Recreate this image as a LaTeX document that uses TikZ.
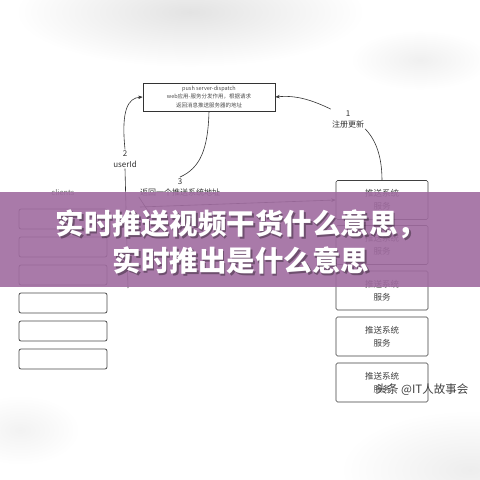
\documentclass[tikz,border=0pt]{standalone}
\usepackage{fontspec}
\newfontfamily\cjk{Noto Sans CJK SC}
\usetikzlibrary{arrows.meta}
\definecolor{bannerpurple}{RGB}{160,108,160}

\begin{document}
\begin{tikzpicture}[x=1pt, y=-1pt,
    pushbox/.style={draw=black!75, line width=0.6pt, rounded corners=1.5pt,
        minimum width=92pt, minimum height=39pt, inner sep=0pt,
        font=\cjk\fontsize{8.5}{13}\selectfont, text=black!75, align=center},
    clientbox/.style={draw=black!70, line width=0.8pt, rounded corners=2pt,
        minimum width=88pt, minimum height=20pt, inner sep=0pt},
    steplabel/.style={font=\cjk\fontsize{8}{11}\selectfont, text=black!80,
        align=center, inner sep=1pt},
    link/.style={draw=black!80, line width=0.6pt},
    tip/.style={-{Stealth[length=4.5pt,width=3.5pt]}}]

    \useasboundingbox (0,0) rectangle (480,480);
    \fill[white] (0,0) rectangle (480,480);

    % faint page background
    \shade[inner color=gray!22, outer color=white] (190,12) ellipse (175 and 55);
    \shade[inner color=gray!12, outer color=white] (420,60) ellipse (70 and 30);
    \shade[inner color=gray!14, outer color=white] (470,470) ellipse (130 and 60);
    \shade[inner color=gray!10, outer color=white] (20,430) ellipse (60 and 35);

    % dispatch server
    \node[draw=black!80, line width=0.6pt, minimum width=132pt, minimum height=28pt,
        inner sep=0pt, align=center, font=\cjk\fontsize{5.5}{8.5}\selectfont, text=black!70]
        (dispatch) at (209,97)
        {push server-dispatch\\web应用-服务分发作用，根据请求\\返回消息推送服务器的地址};

    % push system services
    \node[pushbox] (push1) at (382,200)   {推送系统\\服务};
    \node[pushbox] (push2) at (382,245)   {推送系统\\服务};
    \node[pushbox] (push3) at (382,290.5) {推送系统\\服务};
    \node[pushbox] (push4) at (382,336.5) {推送系统\\服务};
    \node[pushbox] (push5) at (382,382.5) {推送系统\\服务};

    % clients
    \node[font=\cjk\fontsize{7.5}{9}\selectfont, text=black!60] (clients) at (63,193) {clients};
    \foreach \i/\y in {1/219, 2/247, 3/275, 4/303, 5/331, 6/359}
        \node[clientbox] (client\i) at (63,\y) {};

    % step labels
    \node[steplabel] (lbl1) at (348,119) {1\\注册更新};
    \node[steplabel] (lbl2) at (125,159) {2\\userId};
    \node[steplabel] (lbl3) at (180,187) {3\\返回一个推送系统地址};

    \coordinate (c2) at (128,288);
    \coordinate (c3) at (150,214);
    \coordinate (c4) at (140,207);

    % 1: register
    \draw[link] (push1.north) .. controls (382,150) and (372,136) .. (lbl1.south east);
    \draw[link, tip] (lbl1.north west) .. controls (312,100) and (296,95) .. (dispatch.east);

    % 2: userId
    \draw[link] (c2) -- (lbl2.south);
    \draw[link, tip] (lbl2.north) .. controls (121,110) and (128,98) .. (dispatch.west);

    % 3: address back
    \draw[link] (dispatch.south) .. controls (208,150) and (200,168) .. (lbl3.north);
    \draw[link, tip] (lbl3.south west) -- (c3);
    \draw[link, tip] (c4) -- (push1.west);

    % banner
    \fill[bannerpurple, opacity=0.9] (0,192) rectangle (480,287);
    \node[font=\cjk\bfseries\fontsize{28.5}{37}\selectfont, text=black, opacity=0.35,
        align=center, inner sep=0pt] (titleshadow) at (242.5,243.5)
        {实时推送视频干货什么意思，\\实时推出是什么意思};
    \node[font=\cjk\bfseries\fontsize{28.5}{37}\selectfont, text=white,
        align=center, inner sep=0pt] (title) at (241,242)
        {实时推送视频干货什么意思，\\实时推出是什么意思};

    % watermark
    \node[font=\cjk\fontsize{11.5}{13}\selectfont, text=black!75] (mark) at (422,390)
        {头条 @IT人故事会};
\end{tikzpicture}
\end{document}
